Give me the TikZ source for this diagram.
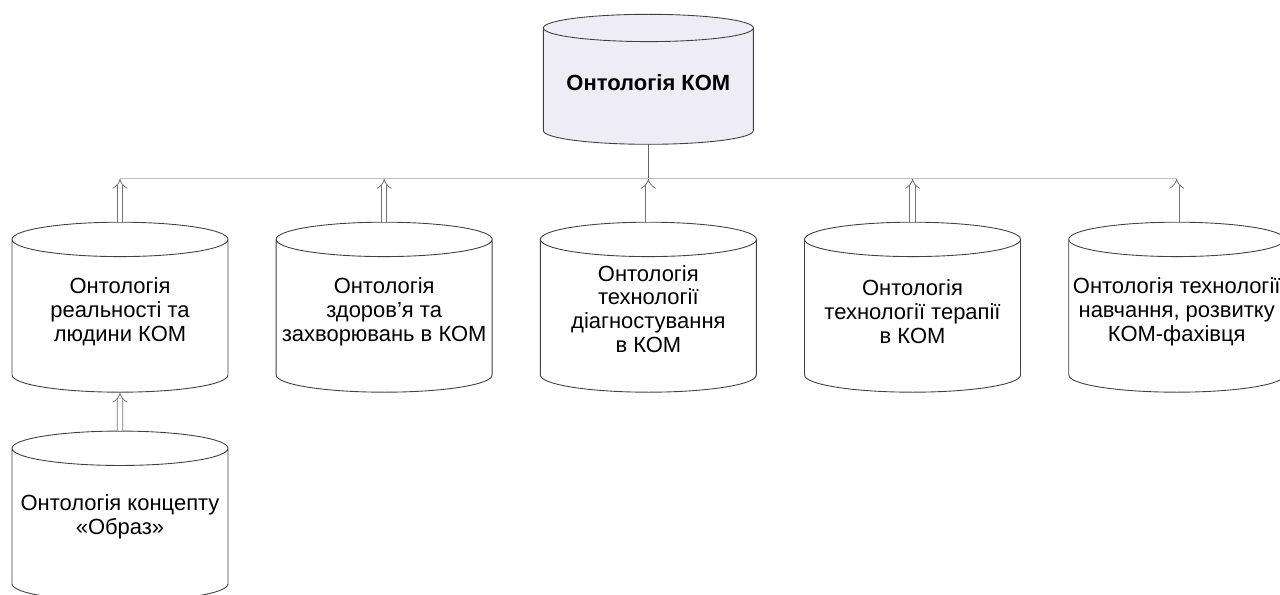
\documentclass[tikz,border=0pt]{standalone}
\usepackage{fontspec}
\setmainfont{Liberation Sans}
\usetikzlibrary{arrows.meta, positioning, shapes.geometric}

\definecolor{komfill}{HTML}{EEEDF5}

\tikzset{
    db/.style={cylinder, shape border rotate=90, draw=black!75, line width=0.5pt, fill=white,
        minimum width=4.32cm, minimum height=3.4cm, aspect=0.16, inner sep=0pt,
        text width=4.3cm, align=center},
    dbtext/.style={align=center, inner sep=0pt, font=\fontsize{12.5}{13.5}\selectfont},
    komtext/.style={inner sep=0pt, font=\bfseries\fontsize{12.5}{14}\selectfont},
    upar/.style={draw=black!55, double=white, double distance=2.6pt, line width=0.45pt, -{Implies}},
    busline/.style={draw=black!25, line width=0.6pt},
    kline/.style={draw=black!60, line width=0.6pt}
}

\begin{document}
\begin{tikzpicture}[node distance=0.945cm]
    \useasboundingbox (0,0) rectangle (25.6,-11.88);

    \node (real) [db] at (2.4,-6.32) {};
    \node (health) [db, right=of real] {};
    \node (diag) [db, right=of health] {};
    \node (ther) [db, right=of diag] {};
    \node (edu) [db, right=of ther] {};
    \node (obraz) [db, below=0.76cm of real] {};
    \node (kom) [db, above=1.54cm of diag, minimum width=4.2cm, minimum height=2.6cm, text width=4.2cm,
        aspect=0.13, fill=komfill] {};

    \node (realtxt) [dbtext] at ([yshift=-1.8cm]real.top) {Онтологія\\реальності та\\людини КОМ};
    \node (healthtxt) [dbtext] at ([yshift=-1.8cm]health.top) {Онтологія\\здоров'я та\\захворювань в КОМ};
    \node (diagtxt) [dbtext] at ([yshift=-1.74cm]diag.top) {Онтологія\\технології\\діагностування\\в КОМ};
    \node (thertxt) [dbtext] at ([yshift=-1.8cm]ther.top) {Онтологія\\технології терапії\\в КОМ};
    \node (edutxt) [dbtext] at ([yshift=-1.8cm]edu.top) {Онтологія технології\\навчання, розвитку\\КОМ-фахівця};
    \node (obraztxt) [dbtext] at ([yshift=-1.72cm]obraz.top) {Онтологія концепту\\«Образ»};
    \node (komtxt) [komtext] at ([yshift=-1.38cm]kom.top) {Онтологія КОМ};

    \coordinate[below=0.68cm of kom.bottom] (bus);

    \draw[kline] (kom.bottom) -- (bus);
    \draw[busline] (real.top |- bus) -- (edu.top |- bus);
    \foreach \n in {real, health, diag, ther, edu}
        \draw[upar] (\n.top) -- (\n.top |- bus);
    \draw[upar] (obraz.top) -- (real.bottom);
\end{tikzpicture}
\end{document}
